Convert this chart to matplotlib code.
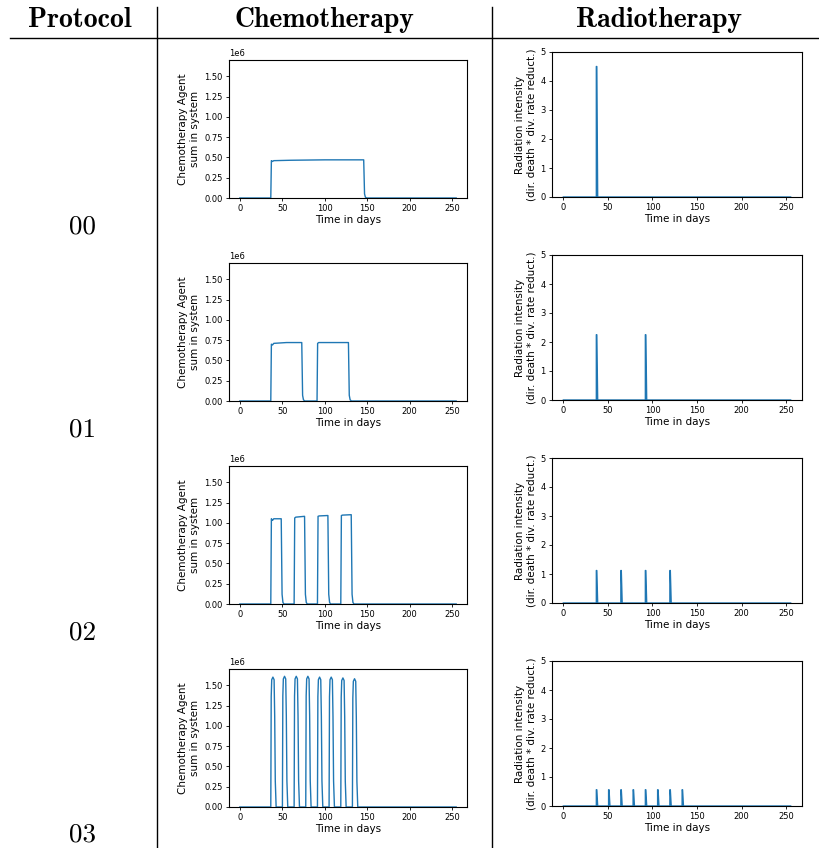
import matplotlib.pyplot as plt
from matplotlib.lines import Line2D

# Row labels and column headers
protocols = ["00", "01", "02", "03"]
headers = ["Protocol", "Chemotherapy", "Radiotherapy"]

# Chemotherapy agent sum in system (days, value in 1e6)
chemo_t0 = [0, 36.5, 37.2, 38.5, 40, 60, 100, 146, 147, 148, 149.5, 255]
chemo_v0 = [0, 0, 0.46, 0.45, 0.46, 0.465, 0.47, 0.47, 0.05, 0.01, 0, 0]

chemo_t1 = [0, 36.5, 37.2, 38.5, 40, 55, 73, 74, 75, 76.5,
            91, 91.7, 93, 128, 129, 130, 131.5, 255]
chemo_v1 = [0, 0, 0.70, 0.69, 0.71, 0.72, 0.72, 0.07, 0.015, 0,
            0, 0.71, 0.72, 0.72, 0.07, 0.015, 0, 0]

chemo_t2 = [0, 36.5, 37.2, 38.5, 40, 48.8, 49.8, 50.8, 52,
            64, 64.7, 66, 76.3, 77.3, 78.3, 79.5,
            91.5, 92.2, 93.5, 103.8, 104.8, 105.8, 107,
            119, 119.7, 121, 131.3, 132.3, 133.3, 134.5, 255]
chemo_v2 = [0, 0, 1.05, 1.03, 1.05, 1.05, 0.12, 0.02, 0,
            0, 1.06, 1.07, 1.08, 0.12, 0.02, 0,
            0, 1.08, 1.085, 1.09, 0.12, 0.02, 0,
            0, 1.09, 1.095, 1.10, 0.12, 0.02, 0, 0]

# protocol 03: short pulses (start day, peak height), pulse outline read from first pulse
peak_start = [36.5, 50.2, 64, 77.7, 91.5, 105.2, 119, 132.7]
peak_height = [1.60, 1.61, 1.61, 1.61, 1.60, 1.60, 1.59, 1.58]
pulse_dt = [0, 0.5, 1.1, 2.5, 3.9, 4.6, 5.3, 6.3]
pulse_frac = [0, 0.85, 0.98, 1, 0.98, 0.7, 0.2, 0]

# Radiation spikes (day, intensity)
rad_days = [[37], [37, 92], [37, 64.5, 92, 119.5],
            [37, 50.75, 64.5, 78.25, 92, 105.75, 119.5, 133.25]]
rad_height = [[4.5], [2.25, 2.25], [1.12, 1.12, 1.12, 1.12],
              [0.56, 0.56, 0.56, 0.56, 0.56, 0.56, 0.56, 0.56]]
t_end = 255


def pulse_trace(starts, heights):
    t, v = [0], [0]
    for s, h in zip(starts, heights):
        for dt, f in zip(pulse_dt, pulse_frac):
            t.append(s + dt)
            v.append(h * f)
    t.append(t_end)
    v.append(0)
    return t, v


def spike_trace(days, heights):
    t, v = [0], [0]
    for d, h in zip(days, heights):
        t += [d, d, d + 0.5, d + 1.5]
        v += [0, h, h, 0]
    t.append(t_end)
    v.append(0)
    return t, v


chemo_t3, chemo_v3 = pulse_trace(peak_start, peak_height)
chemo_series = [(chemo_t0, chemo_v0), (chemo_t1, chemo_v1),
                (chemo_t2, chemo_v2), (chemo_t3, chemo_v3)]

W, H = 820, 848
fig = plt.figure(figsize=(W / 100, H / 100), dpi=100)


def px_axes(left, top, width, height):
    return fig.add_axes([left / W, 1 - (top + height) / H, width / W, height / H])


def style(ax):
    ax.tick_params(labelsize=6, length=2.5, width=0.6, pad=2)
    ax.yaxis.get_offset_text().set_fontsize(6)
    ax.set_xlabel("Time in days", fontsize=7.5, labelpad=1)


for i in range(4):
    dy = 203 * i
    # chemotherapy
    ax = px_axes(229, 60 + dy, 238, 138)
    t, v = chemo_series[i]
    ax.plot(t, [x * 1e6 for x in v], color="#1f77b4", lw=1.0)
    ax.set_ylim(0, 1.7e6)
    ax.set_yticks([0, 0.25e6, 0.5e6, 0.75e6, 1.0e6, 1.25e6, 1.5e6])
    ax.set_xticks([0, 50, 100, 150, 200, 250])
    ax.set_ylabel("Chemotherapy Agent\nsum in system", fontsize=7.5, labelpad=3)
    style(ax)

    # radiotherapy
    ax = px_axes(552, 52 + dy, 250, 145)
    t, v = spike_trace(rad_days[i], rad_height[i])
    ax.plot(t, v, color="#1f77b4", lw=1.0)
    ax.set_ylim(0, 5)
    ax.set_xticks([0, 50, 100, 150, 200, 250])
    ax.set_ylabel("Radiation intensity\n(dir. death * div. rate reduct.)", fontsize=7.5, labelpad=3)
    style(ax)

    # protocol label
    fig.text(83 / W, 1 - (233 + dy) / H, protocols[i], family="cmr10",
             fontsize=19.5, ha="center", va="baseline")

# table header
for x, label in zip([80, 324, 659], headers):
    fig.text(x / W, 1 - 27 / H, label, family="cmb10", fontsize=20,
             ha="center", va="baseline")

# table rules
fig.add_artist(Line2D([10 / W, 1], [1 - 38 / H] * 2, color="k", lw=1.0))
for x in [157, 492]:
    fig.add_artist(Line2D([x / W] * 2, [1 - 7 / H, 0], color="k", lw=1.0))

fig.savefig("out.png", dpi=100)
